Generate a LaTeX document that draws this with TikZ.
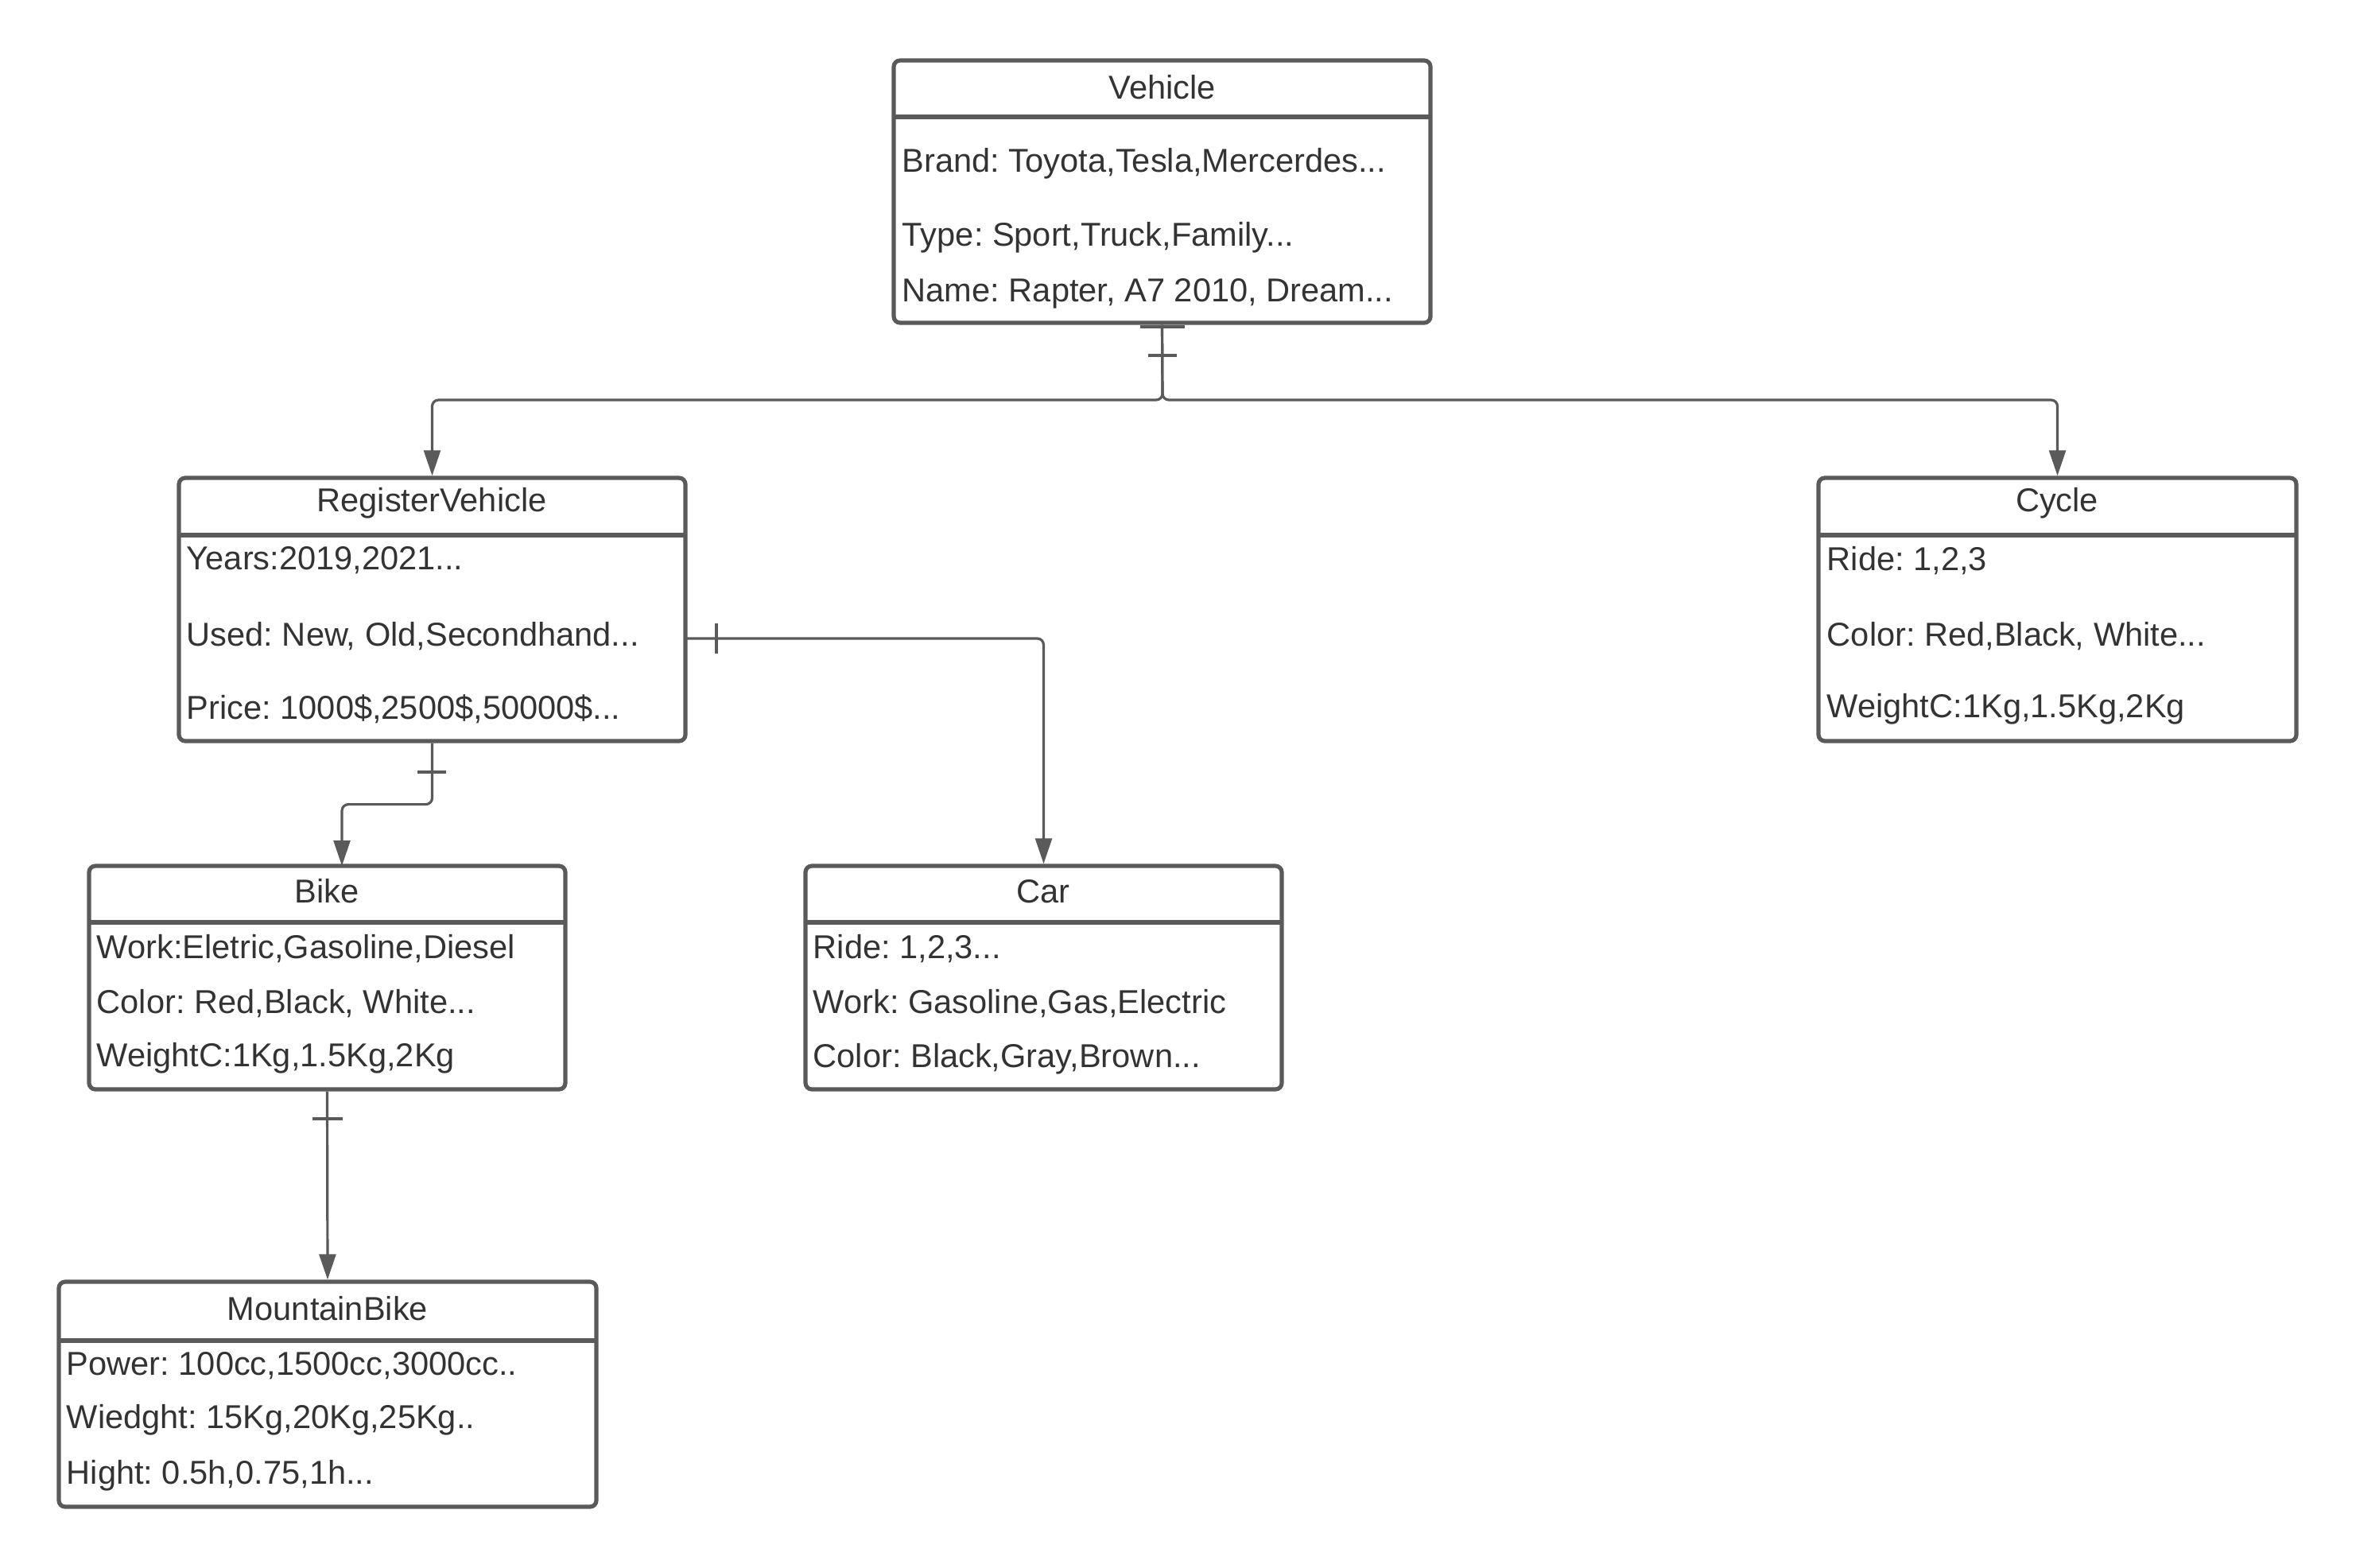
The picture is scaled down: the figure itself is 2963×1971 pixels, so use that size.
\documentclass[tikz,border=0pt]{standalone}
\usepackage{fontspec}
\setmainfont{Liberation Sans}
\usetikzlibrary{arrows.meta,fit}
\definecolor{ln}{HTML}{5A5A5A}
\definecolor{tx}{HTML}{333333}
\frenchspacing
\begin{document}
\begin{tikzpicture}[x=0.25pt,y=-0.25pt,
  box/.style={draw=ln, line width=1.3pt, rounded corners=2pt, inner sep=0pt},
  hdr/.style={draw=ln, line width=1.3pt},
  ttl/.style={text=tx, font=\fontsize{10.4}{12}\selectfont, inner sep=0pt, yshift=-0.5pt},
  att/.style={ttl, anchor=west},
  conn/.style={draw=ln, line width=0.8pt, rounded corners=2pt, -{Triangle[length=8pt,width=5.2pt]}},
  tickmark/.style={draw=ln, line width=0.8pt}]
\useasboundingbox (0,0) rectangle (2963,1971);

% Vehicle
\node[box, fit={(1124,76) (1799,406)}] (veh) {};
\draw[hdr] (1124,147) -- (1799,147);
\node[ttl] (vehT) at (1462,108) {Vehicle};
\node[att] (veh1) at (1134,204) {Brand: Toyota,Tesla,Mercerdes...};
\node[att] (veh2) at (1134,297) {Type: Sport,Truck,Family...};
\node[att] (veh3) at (1134,367) {Name: Rapter, A7 2010, Dream...};

% RegisterVehicle
\node[box, fit={(225,601) (862,932)}] (rv) {};
\draw[hdr] (225,673) -- (862,673);
\node[ttl] (rvT) at (543,631) {RegisterVehicle};
\node[att] (rv1) at (234,703) {Years:2019,2021...};
\node[att] (rv2) at (234,798) {Used: New, Old,Secondhand...};
\node[att] (rv3) at (234,890) {Price: 1000\$,2500\$,50000\$...};

% Cycle
\node[box, fit={(2287,601) (2888,932)}] (cyc) {};
\draw[hdr] (2287,673) -- (2888,673);
\node[ttl] (cycT) at (2587,631) {Cycle};
\node[att] (cyc1) at (2297,703) {Ride: 1,2,3};
\node[att] (cyc2) at (2297,798) {Color: Red,Black, White...};
\node[att] (cyc3) at (2297,890) {WeightC:1Kg,1.5Kg,2Kg};

% Bike
\node[box, fit={(112,1089) (711,1370)}] (bike) {};
\draw[hdr] (112,1160) -- (711,1160);
\node[ttl] (bikeT) at (411,1119) {Bike};
\node[att] (bike1) at (121,1191) {Work:Eletric,Gasoline,Diesel};
\node[att] (bike2) at (121,1260) {Color: Red,Black, White...};
\node[att] (bike3) at (121,1329) {WeightC:1Kg,1.5Kg,2Kg};

% Car
\node[box, fit={(1013,1089) (1612,1370)}] (car) {};
\draw[hdr] (1013,1160) -- (1612,1160);
\node[ttl] (carT) at (1312,1119) {Car};
\node[att] (car1) at (1022,1191) {Ride: 1,2,3...};
\node[att] (car2) at (1022,1260) {Work: Gasoline,Gas,Electric};
\node[att] (car3) at (1022,1330) {Color: Black,Gray,Brown...};

% MountainBike
\node[box, fit={(74,1612) (750,1895)}] (mb) {};
\draw[hdr] (74,1686) -- (750,1686);
\node[ttl] (mbT) at (412,1644) {MountainBike};
\node[att] (mb1) at (83,1716) {Power: 100cc,1500cc,3000cc..};
\node[att] (mb2) at (83,1784) {Wiedght: 15Kg,20Kg,25Kg..};
\node[att] (mb3) at (83,1854) {Hight: 0.5h,0.75,1h...};

% connectors
\coordinate (vj) at (1462,503);
\draw[conn] (veh.south) -- (vj) -| (rv.north);
\draw[conn] (veh.south) -- (vj) -| (cyc.north);
\coordinate (bk) at (430,1089);
\draw[conn] (rv.south) -- ++(0,77) -| (bk);
\coordinate (rvr) at (862,803);
\draw[conn] (rvr) -| (car.north);
\draw[conn] (bike.south) -- (mb.north);

% one-marks
\draw[tickmark] (1434,411) -- (1490,411);
\draw[tickmark] (1444,447) -- (1480,447);
\draw[tickmark] (525,971) -- (561,971);
\draw[tickmark] (901,784) -- (901,822);
\draw[tickmark] (393,1407) -- (431,1407);
\end{tikzpicture}
\end{document}
